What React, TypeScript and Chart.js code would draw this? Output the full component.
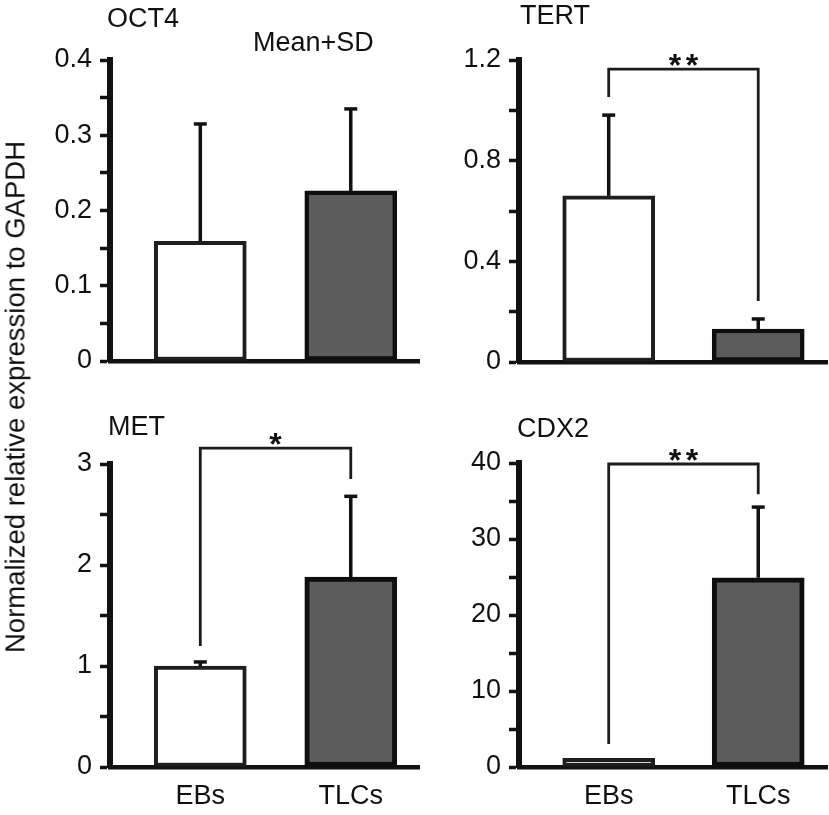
import React, { useEffect, useRef } from 'react';
import { Chart, registerables } from 'chart.js';

Chart.register(...registerables);

// ---------- data ----------
const categories = ['EBs', 'TLCs'];
const xPositions = [1, 2];

const oct4Mean = [0.159, 0.226];
const oct4SD = [0.156, 0.109];
const tertMean = [0.66, 0.131];
const tertSD = [0.321, 0.04];
const metMean = [1.0, 1.88];
const metSD = [0.04, 0.8];
const cdx2Mean = [1.15, 24.9];
const cdx2SD = [0, 9.3];

const oct4TickLabels = ['0', '0.1', '0.2', '0.3', '0.4'];
const oct4MinorTicks = [0.05, 0.15, 0.25, 0.35];
const tertTickLabels = ['0', '0.4', '0.8', '1.2'];
const tertMinorTicks = [0.2, 0.6, 1.0];
const metTickLabels = ['0', '1', '2', '3'];
const metMinorTicks = [0.5, 1.5, 2.5];
const cdx2TickLabels = ['0', '10', '20', '30', '40'];
const cdx2MinorTicks = [5, 15, 25, 35];

// significance brackets: [bracket top, left end, right end] (data units)
const tertBracket = [1.164, 1.053, 0.242];
const metBracket = [3.158, 1.198, 2.851];
const cdx2Bracket = [39.87, 3.03, 35.9];
const tertStars = '**';
const metStars = '*';
const cdx2Stars = '**';

const yAxisTitle = 'Normalized relative expression to GAPDH';
const statNote = 'Mean+SD';

// ---------- styles ----------
const FONT = '"Liberation Sans", Arial, Helvetica, sans-serif';
const TEXT = '#111111';
const LINE = '#111111';
const EB_FILL = '#ffffff';
const TLC_FILL = '#5c5c5c';

type PanelCfg = {
  title: string;
  titleX: number;
  titleY: number;
  note?: { text: string; x: number; y: number };
  means: number[];
  sds: number[];
  tickLabels: string[];
  minorTicks: number[];
  bracket?: number[];
  stars?: string;
  left: number;
  top: number;
  w: number;
  h: number;
  yWidth: number;
  padTop: number;
  padRight: number;
  xHeight: number;
  showX: boolean;
  tlcBorder: number;
};

const panels: PanelCfg[] = [
  {
    title: 'OCT4', titleX: 77, titleY: 20,
    note: { text: statNote, x: 223, y: 44 },
    means: oct4Mean, sds: oct4SD, tickLabels: oct4TickLabels, minorTicks: oct4MinorTicks,
    left: 30, top: 0, w: 390, h: 400, yWidth: 80, padTop: 60, padRight: 0, xHeight: 39, showX: false, tlcBorder: 4.5,
  },
  {
    title: 'TERT', titleX: 100, titleY: 17,
    means: tertMean, sds: tertSD, tickLabels: tertTickLabels, minorTicks: tertMinorTicks,
    bracket: tertBracket, stars: tertStars,
    left: 420, top: 0, w: 409, h: 400, yWidth: 99, padTop: 60, padRight: 2, xHeight: 38, showX: false, tlcBorder: 4.5,
  },
  {
    title: 'MET', titleX: 78, titleY: 28,
    means: metMean, sds: metSD, tickLabels: metTickLabels, minorTicks: metMinorTicks,
    bracket: metBracket, stars: metStars,
    left: 30, top: 400, w: 390, h: 415, yWidth: 80, padTop: 64, padRight: 0, xHeight: 48, showX: true, tlcBorder: 5,
  },
  {
    title: 'CDX2', titleX: 97, titleY: 30,
    means: cdx2Mean, sds: cdx2SD, tickLabels: cdx2TickLabels, minorTicks: cdx2MinorTicks,
    bracket: cdx2Bracket, stars: cdx2Stars,
    left: 420, top: 400, w: 409, h: 415, yWidth: 99, padTop: 63, padRight: 2, xHeight: 48, showX: true, tlcBorder: 5,
  },
];

function makeOverlay(p: PanelCfg) {
  return {
    id: 'overlay',
    afterDatasetsDraw(chart: any) {
      const ctx = chart.ctx;
      const xs = chart.scales.x;
      const ys = chart.scales.y;
      ctx.save();
      // error bars
      ctx.strokeStyle = LINE;
      ctx.lineWidth = 3.5;
      ctx.lineCap = 'butt';
      p.means.forEach((m, i) => {
        const sd = p.sds[i];
        if (!sd) return;
        const x = xs.getPixelForValue(xPositions[i]);
        const y0 = ys.getPixelForValue(m);
        const y1 = ys.getPixelForValue(m + sd);
        ctx.beginPath();
        ctx.moveTo(x, y0);
        ctx.lineTo(x, y1);
        ctx.stroke();
        ctx.beginPath();
        ctx.moveTo(x - 6.5, y1);
        ctx.lineTo(x + 6.5, y1);
        ctx.stroke();
      });
      // bracket
      if (p.bracket) {
        const [top, lEnd, rEnd] = p.bracket;
        const xl = xs.getPixelForValue(xPositions[0]);
        const xr = xs.getPixelForValue(xPositions[1]);
        const yt = ys.getPixelForValue(top);
        ctx.lineWidth = 2.8;
        ctx.strokeStyle = '#1c1c1c';
        ctx.lineJoin = 'miter';
        ctx.beginPath();
        ctx.moveTo(xl, ys.getPixelForValue(lEnd));
        ctx.lineTo(xl, yt);
        ctx.lineTo(xr, yt);
        ctx.lineTo(xr, ys.getPixelForValue(rEnd));
        ctx.stroke();
        const n = (p.stars || '').length;
        const cx = (xl + xr) / 2;
        const cy = yt - 11;
        const fs = 32;
        ctx.fillStyle = TEXT;
        ctx.font = `bold ${fs}px ${FONT}`;
        ctx.textAlign = 'center';
        ctx.textBaseline = 'alphabetic';
        for (let k = 0; k < n; k++) {
          ctx.fillText('*', cx + (k - (n - 1) / 2) * 17, cy + 0.57 * fs);
        }
      }
      // titles
      ctx.fillStyle = TEXT;
      ctx.font = `27px ${FONT}`;
      ctx.textAlign = 'left';
      ctx.textBaseline = 'middle';
      ctx.fillText(p.title, p.titleX, p.titleY);
      if (p.note) ctx.fillText(p.note.text, p.note.x, p.note.y);
      ctx.restore();
    },
  };
}

function buildConfig(p: PanelCfg): any {
  const majorVals = p.tickLabels.map(Number);
  const allTicks = [...majorVals, ...p.minorTicks].sort((a, b) => a - b);
  const yMax = majorVals[majorVals.length - 1];
  return {
    type: 'bar',
    data: {
      datasets: [
        {
          data: xPositions.map((x, i) => ({ x, y: p.means[i] })),
          backgroundColor: [EB_FILL, TLC_FILL],
          borderColor: ['#1e1e1e', '#0e0e0e'],
          borderWidth: [4, p.tlcBorder],
          borderSkipped: false,
          barThickness: 92,
        },
      ],
    },
    options: {
      animation: false,
      responsive: false,
      events: [],
      layout: { padding: { left: 0, right: p.padRight, top: p.padTop, bottom: 0 } },
      plugins: {
        legend: { display: false },
        tooltip: { enabled: false },
        title: { display: false },
      },
      scales: {
        x: {
          type: 'linear',
          offset: false,
          bounds: 'data',
          min: 0.4,
          max: 2.46,
          afterBuildTicks: (s: any) => {
            s.ticks = xPositions.map((v) => ({ value: v }));
          },
          afterFit: (s: any) => {
            s.height = p.xHeight;
          },
          ticks: {
            display: p.showX,
            autoSkip: false,
            maxRotation: 0,
            padding: 13,
            color: TEXT,
            font: { family: FONT, size: 27 },
            callback: (v: number) => {
              const i = xPositions.indexOf(v);
              return i >= 0 ? categories[i] : '';
            },
          },
          grid: { display: true, offset: false, drawOnChartArea: false, drawTicks: false, color: 'rgba(0,0,0,0)' },
          border: { display: true, color: LINE, width: 4.5 },
        },
        y: {
          type: 'linear',
          min: 0,
          max: yMax,
          afterBuildTicks: (s: any) => {
            s.ticks = allTicks.map((v) => ({ value: v }));
          },
          afterFit: (s: any) => {
            s.width = p.yWidth;
          },
          ticks: {
            autoSkip: false,
            padding: 8,
            color: TEXT,
            font: { family: FONT, size: 27 },
            callback: (v: number) => {
              const i = majorVals.findIndex((m) => Math.abs(m - v) < 1e-9);
              return i >= 0 ? p.tickLabels[i] : '';
            },
          },
          grid: {
            display: true,
            drawOnChartArea: false,
            drawTicks: true,
            tickLength: 10,
            tickWidth: 3.5,
            tickColor: LINE,
          },
          border: { display: true, color: LINE, width: 6 },
        },
      },
    },
    plugins: [makeOverlay(p)],
  };
}

function Panel({ cfg }: { cfg: PanelCfg }) {
  const ref = useRef<HTMLCanvasElement | null>(null);
  useEffect(() => {
    if (!ref.current) return;
    const chart = new Chart(ref.current, buildConfig(cfg));
    return () => chart.destroy();
  }, [cfg]);
  return (
    <canvas
      ref={ref}
      width={cfg.w}
      height={cfg.h}
      style={{ position: 'absolute', left: cfg.left, top: cfg.top, width: cfg.w, height: cfg.h }}
    />
  );
}

export default function App() {
  return (
    <div
      style={{
        position: 'absolute',
        left: 0,
        top: 0,
        width: 829,
        height: 815,
        background: '#fff',
        overflow: 'hidden',
      }}
    >
      {panels.map((p) => (
        <Panel key={p.title} cfg={p} />
      ))}
      <div
        style={{
          position: 'absolute',
          left: 14.5,
          top: 397,
          transform: 'translate(-50%, -50%) rotate(-90deg)',
          whiteSpace: 'nowrap',
          fontFamily: FONT,
          fontSize: 27.5,
          lineHeight: '27px',
          color: TEXT,
        }}
      >
        {yAxisTitle}
      </div>
    </div>
  );
}
